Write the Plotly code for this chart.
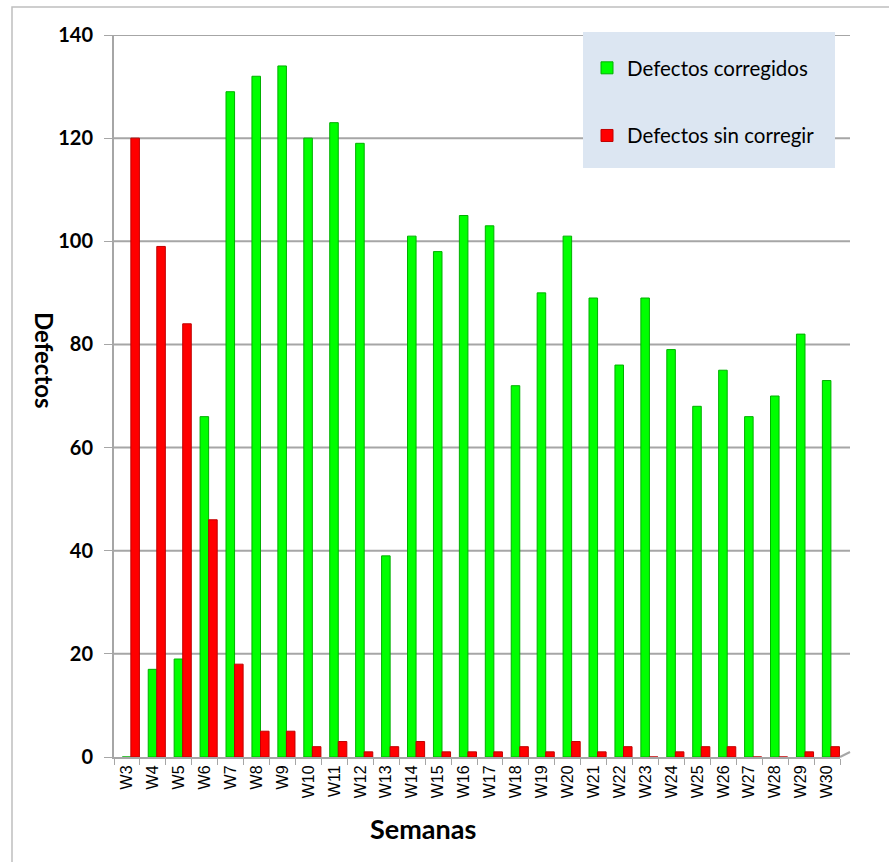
import plotly.graph_objects as go

weeks = [f"W{i}" for i in range(3, 31)]
corregidos = [0, 17, 19, 66, 129, 132, 134, 120, 123, 119, 39, 101, 98, 105, 103,
              72, 90, 101, 89, 76, 89, 79, 68, 75, 66, 70, 82, 73]
sin_corregir = [120, 99, 84, 46, 18, 5, 5, 2, 3, 1, 2, 3, 1, 1, 1,
                2, 1, 3, 1, 2, 0, 1, 2, 2, 0, 0, 1, 2]
y_ticks = [0, 20, 40, 60, 80, 100, 120, 140]

W, H = 889, 862
L, R, T, B = 114, 49, 35, 105
pw, ph = W - L - R, H - T - B

def px(x):
    return (x - L) / pw

def py(y):
    return (H - B - y) / ph

fig = go.Figure()
fig.add_trace(go.Bar(x=weeks, y=corregidos, name="Defectos corregidos",
                     width=0.33, offset=-0.18,
                     marker=dict(color="#00FF00", line=dict(color="#00B000", width=1)),
                     legendgroup="a"))
fig.add_trace(go.Bar(x=weeks, y=sin_corregir, name="Defectos sin corregir",
                     width=0.33, offset=0.15,
                     marker=dict(color="#FF0000", line=dict(color="#C00000", width=1)),
                     legendgroup="b"))

shapes = [
    dict(type="line", xref="paper", yref="y", x0=0, x1=px(850), y0=v, y1=v,
         line=dict(color="#A6A6A6", width=2), layer="below")
    for v in y_ticks if v > 0
]
shapes += [
    dict(type="rect", xref="paper", yref="paper",
         x0=px(583), x1=px(835), y0=py(168), y1=py(32),
         fillcolor="#DCE6F2", line=dict(width=0), layer="above"),
    dict(type="rect", xref="paper", yref="paper",
         x0=px(12), x1=px(900), y0=py(880), y1=py(7),
         line=dict(color="#BFBFBF", width=1.5), fillcolor="rgba(0,0,0,0)",
         layer="below"),
    dict(type="line", xref="paper", yref="paper", x0=1, x1=px(850), y0=0, y1=py(752),
         line=dict(color="#A6A6A6", width=2)),
]

fig.update_layout(
    width=W, height=H,
    margin=dict(l=L, r=R, t=T, b=B),
    paper_bgcolor="white", plot_bgcolor="white",
    barmode="overlay",
    font=dict(family="Liberation Sans, Arial", color="black"),
    legend=dict(x=px(587), y=py(48), xanchor="left", yanchor="top",
                bgcolor="rgba(0,0,0,0)", font=dict(family="Lato", size=20.5),
                tracegroupgap=38, traceorder="grouped"),
    xaxis=dict(tickangle=-90, tickfont=dict(size=16, family="Liberation Sans"),
               showline=True, linecolor="#A6A6A6", linewidth=2,
               ticks="outside", tickson="boundaries", ticklen=6, tickcolor="#A6A6A6",
               showgrid=False, range=[-0.5, 27.5]),
    yaxis=dict(range=[0, 140], tickvals=y_ticks, showgrid=False,
               showline=True, linecolor="#A6A6A6", linewidth=2,
               ticks="outside", ticklen=8, tickcolor="#A6A6A6", zeroline=False,
               tickfont=dict(size=20, family="Lato", weight="bold"),
               ticklabelstandoff=7),
    shapes=shapes,
    annotations=[
        dict(text="<b>Defectos</b>", xref="paper", yref="paper", x=px(45), y=py(360),
             xanchor="center", yanchor="middle",
             textangle=90, showarrow=False, font=dict(family="Lato", size=24)),
        dict(text="<b>Semanas</b>", xref="paper", yref="paper", x=px(423), y=py(828),
             xanchor="center", yanchor="middle",
             showarrow=False, font=dict(family="Lato", size=27)),
    ],
    showlegend=True,
)

fig.write_html("out.html", config={"displayModeBar": False},
               post_script="document.body.style.margin='0';")
